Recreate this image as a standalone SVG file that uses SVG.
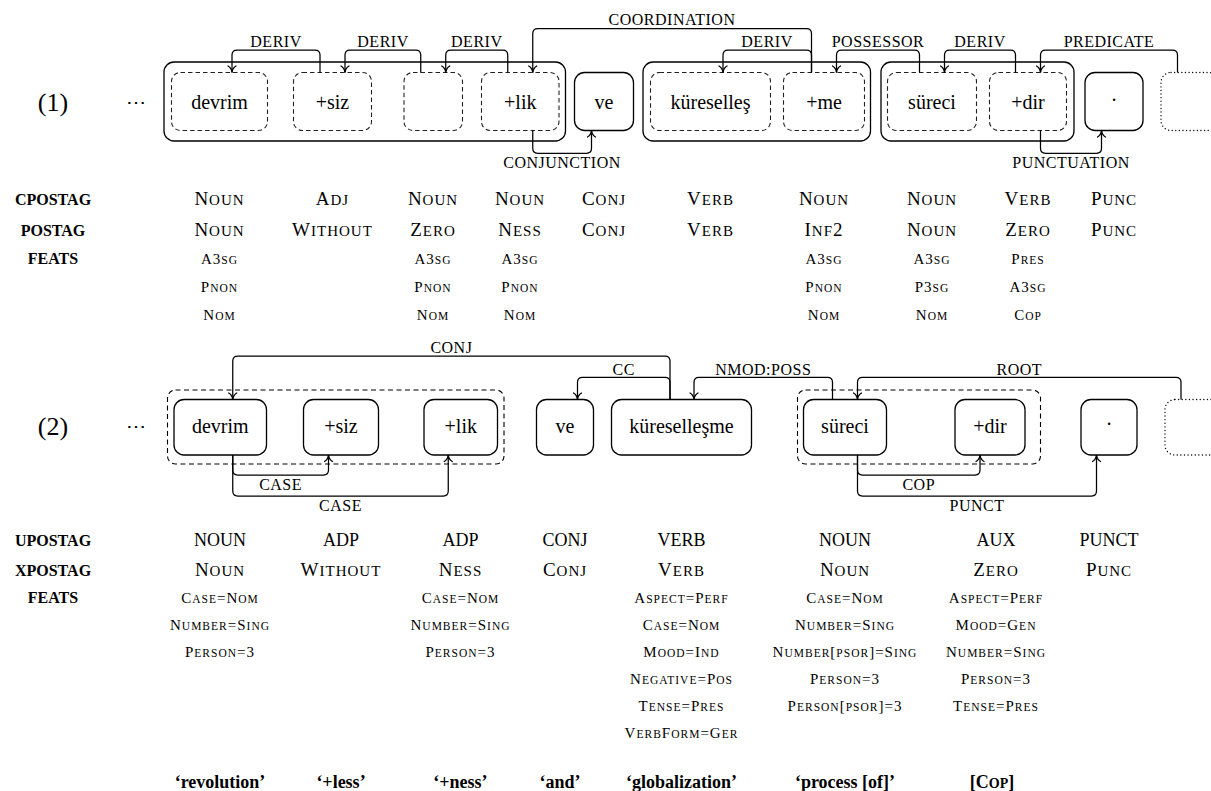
<svg xmlns="http://www.w3.org/2000/svg" width="1211" height="791" viewBox="0 0 1211 791">
<defs>
<style>
text{font-family:"Liberation Serif","Times New Roman",serif;fill:#000;text-anchor:middle}
.w{font-size:20px}
.num{font-size:26px}
.lbl{font-size:16px;letter-spacing:0.5px}
.hd{font-size:16px;font-weight:bold}
.pos{font-size:19px;letter-spacing:1px}
.pos .s{font-size:15px}
.up{font-size:18px}
.ft{font-size:15px;letter-spacing:1px}
.ft .s{font-size:11.5px}
.gl{font-size:18px;font-weight:bold}
.gl .s{font-size:14px}
.box{fill:none;stroke:#000;stroke-width:1.3}
.dbox{fill:none;stroke:#222;stroke-width:1.1;stroke-dasharray:4.5 3}
.dot{fill:none;stroke:#000;stroke-width:1.3;stroke-dasharray:0.1 3.5;stroke-linecap:round}
.grp{fill:none;stroke:#000;stroke-width:1.1;stroke-dasharray:5 3.5}
.e{fill:none;stroke:#000;stroke-width:1.25;marker-end:url(#ah)}
</style>
<marker id="ah" viewBox="-8 -5 9 10" markerWidth="9" markerHeight="10" refX="0" refY="0" orient="auto" markerUnits="userSpaceOnUse">
<path d="M-6.5,-4 C-5,-1.4 -2.4,-0.3 0,0 C-2.4,0.3 -5,1.4 -6.5,4" fill="none" stroke="#000" stroke-width="1.3" stroke-linecap="round"/>
</marker>
</defs>

<!-- Row (1) -->
<text class="num" x="53" y="111">(1)</text>
<text class="w" x="136" y="109">⋯</text>

<g id="grpA"><rect class="box" x="164" y="62" width="401.5" height="79" rx="10"/></g>
<g id="n1-devrim"><rect class="dbox" x="171.5" y="72.5" width="96" height="58" rx="9"/><text class="w" x="219.5" y="109">devrim</text></g>
<g id="n1-siz"><rect class="dbox" x="293.5" y="72.5" width="78" height="58" rx="9"/><text class="w" x="332.5" y="109">+siz</text></g>
<g id="n1-empty"><rect class="dbox" x="404" y="72.5" width="58.5" height="58" rx="9"/></g>
<g id="n1-lik"><rect class="dbox" x="481.5" y="72.5" width="77.5" height="58" rx="9"/><text class="w" x="520.25" y="109">+lik</text></g>
<g id="n1-ve"><rect class="box" x="574.5" y="72.5" width="59" height="58" rx="10"/><text class="w" x="604" y="109">ve</text></g>
<g id="grpB"><rect class="box" x="643" y="62" width="227.5" height="79" rx="10"/></g>
<g id="n1-kuresel"><rect class="dbox" x="650.5" y="72.5" width="120" height="58" rx="9"/><text class="w" x="710.5" y="109">küreselleş</text></g>
<g id="n1-me"><rect class="dbox" x="783.5" y="72.5" width="81" height="58" rx="9"/><text class="w" x="824" y="109">+me</text></g>
<g id="grpC"><rect class="box" x="881" y="62" width="193" height="79" rx="10"/></g>
<g id="n1-sureci"><rect class="dbox" x="887.5" y="72.5" width="89" height="58" rx="9"/><text class="w" x="932" y="109">süreci</text></g>
<g id="n1-dir"><rect class="dbox" x="989.5" y="72.5" width="77" height="58" rx="9"/><text class="w" x="1028" y="109">+dir</text></g>
<g id="n1-punc"><rect class="box" x="1085" y="72.5" width="58" height="58" rx="10"/><text class="w" x="1114" y="107">·</text></g>
<g id="n1-next"><rect class="dot" x="1161" y="72.5" width="58" height="58" rx="10"/></g>

<g id="edges1">
<path class="e" d="M320,72.5 V55 Q320,50 315,50 H237 Q232,50 232,55 V72.5"/>
<path class="e" d="M420.75,72.5 V55 Q420.75,50 415.75,50 H350 Q345,50 345,55 V72.5"/>
<path class="e" d="M507.75,72.5 V55 Q507.75,50 502.75,50 H450.75 Q445.75,50 445.75,55 V72.5"/>
<path class="e" d="M811.5,72.5 V33.5 Q811.5,28.5 806.5,28.5 H537.75 Q532.75,28.5 532.75,33.5 V72.5"/>
<path class="e" d="M532.75,130.5 V148.3 Q532.75,153.3 537.75,153.3 H586.5 Q591.5,153.3 591.5,148.3 V130.5"/>
<path class="e" d="M811.5,72.5 V55 Q811.5,50 806.5,50 H728 Q723,50 723,55 V72.5"/>
<path class="e" d="M919.5,72.5 V55 Q919.5,50 914.5,50 H841.5 Q836.5,50 836.5,55 V72.5"/>
<path class="e" d="M1015.5,72.5 V55 Q1015.5,50 1010.5,50 H949.5 Q944.5,50 944.5,55 V72.5"/>
<path class="e" d="M1177.5,72.5 V55 Q1177.5,50 1172.5,50 H1045.5 Q1040.5,50 1040.5,55 V72.5"/>
<path class="e" d="M1040.5,130.5 V148.3 Q1040.5,153.3 1045.5,153.3 H1096.5 Q1101.5,153.3 1101.5,148.3 V130.5"/>
<text class="lbl" x="276" y="47">DERIV</text>
<text class="lbl" x="383" y="47">DERIV</text>
<text class="lbl" x="476.75" y="47">DERIV</text>
<text class="lbl" x="672" y="25">COORDINATION</text>
<text class="lbl" x="562" y="168">CONJUNCTION</text>
<text class="lbl" x="767" y="47">DERIV</text>
<text class="lbl" x="878" y="47">POSSESSOR</text>
<text class="lbl" x="980" y="47">DERIV</text>
<text class="lbl" x="1109" y="47">PREDICATE</text>
<text class="lbl" x="1071" y="168">PUNCTUATION</text>
</g>

<!-- Table (1) -->
<g id="table1">
<text class="hd" x="53" y="205">CPOSTAG</text>
<text class="hd" x="53" y="236">POSTAG</text>
<text class="hd" x="53" y="264">FEATS</text>

<text class="pos" x="219.5" y="205">N<tspan class="s">OUN</tspan></text>
<text class="pos" x="219.5" y="236">N<tspan class="s">OUN</tspan></text>
<text class="ft" x="219.5" y="264">A3<tspan class="s">SG</tspan></text>
<text class="ft" x="219.5" y="292">P<tspan class="s">NON</tspan></text>
<text class="ft" x="219.5" y="320">N<tspan class="s">OM</tspan></text>

<text class="pos" x="332.5" y="205">A<tspan class="s">DJ</tspan></text>
<text class="pos" x="332.5" y="236">W<tspan class="s">ITHOUT</tspan></text>

<text class="pos" x="433" y="205">N<tspan class="s">OUN</tspan></text>
<text class="pos" x="433" y="236">Z<tspan class="s">ERO</tspan></text>
<text class="ft" x="433" y="264">A3<tspan class="s">SG</tspan></text>
<text class="ft" x="433" y="292">P<tspan class="s">NON</tspan></text>
<text class="ft" x="433" y="320">N<tspan class="s">OM</tspan></text>

<text class="pos" x="520" y="205">N<tspan class="s">OUN</tspan></text>
<text class="pos" x="520" y="236">N<tspan class="s">ESS</tspan></text>
<text class="ft" x="520" y="264">A3<tspan class="s">SG</tspan></text>
<text class="ft" x="520" y="292">P<tspan class="s">NON</tspan></text>
<text class="ft" x="520" y="320">N<tspan class="s">OM</tspan></text>

<text class="pos" x="604" y="205">C<tspan class="s">ONJ</tspan></text>
<text class="pos" x="604" y="236">C<tspan class="s">ONJ</tspan></text>

<text class="pos" x="710.5" y="205">V<tspan class="s">ERB</tspan></text>
<text class="pos" x="710.5" y="236">V<tspan class="s">ERB</tspan></text>

<text class="pos" x="824" y="205">N<tspan class="s">OUN</tspan></text>
<text class="pos" x="824" y="236">I<tspan class="s">NF</tspan>2</text>
<text class="ft" x="824" y="264">A3<tspan class="s">SG</tspan></text>
<text class="ft" x="824" y="292">P<tspan class="s">NON</tspan></text>
<text class="ft" x="824" y="320">N<tspan class="s">OM</tspan></text>

<text class="pos" x="932" y="205">N<tspan class="s">OUN</tspan></text>
<text class="pos" x="932" y="236">N<tspan class="s">OUN</tspan></text>
<text class="ft" x="932" y="264">A3<tspan class="s">SG</tspan></text>
<text class="ft" x="932" y="292">P3<tspan class="s">SG</tspan></text>
<text class="ft" x="932" y="320">N<tspan class="s">OM</tspan></text>

<text class="pos" x="1028" y="205">V<tspan class="s">ERB</tspan></text>
<text class="pos" x="1028" y="236">Z<tspan class="s">ERO</tspan></text>
<text class="ft" x="1028" y="264">P<tspan class="s">RES</tspan></text>
<text class="ft" x="1028" y="292">A3<tspan class="s">SG</tspan></text>
<text class="ft" x="1028" y="320">C<tspan class="s">OP</tspan></text>

<text class="pos" x="1114" y="205">P<tspan class="s">UNC</tspan></text>
<text class="pos" x="1114" y="236">P<tspan class="s">UNC</tspan></text>
</g>

<!-- Row (2) -->
<text class="num" x="53" y="435">(2)</text>
<text class="w" x="136" y="433">⋯</text>

<g id="grp2A"><rect class="grp" x="167.5" y="390" width="336.5" height="74" rx="8"/></g>
<g id="n2-devrim"><rect class="box" x="174" y="399.5" width="92.5" height="55.5" rx="10"/><text class="w" x="220.25" y="433">devrim</text></g>
<g id="n2-siz"><rect class="box" x="303.5" y="399.5" width="75" height="55.5" rx="10"/><text class="w" x="341" y="433">+siz</text></g>
<g id="n2-lik"><rect class="box" x="424" y="399.5" width="73.5" height="55.5" rx="10"/><text class="w" x="460.75" y="433">+lik</text></g>
<g id="n2-ve"><rect class="box" x="536.5" y="399.5" width="57" height="55.5" rx="10"/><text class="w" x="565" y="433">ve</text></g>
<g id="n2-kuresel"><rect class="box" x="611.5" y="399.5" width="140" height="55.5" rx="10"/><text class="w" x="681.5" y="433">küreselleşme</text></g>
<g id="grp2B"><rect class="grp" x="797.5" y="390" width="243" height="74" rx="8"/></g>
<g id="n2-sureci"><rect class="box" x="803.5" y="399.5" width="83" height="55.5" rx="10"/><text class="w" x="845" y="433">süreci</text></g>
<g id="n2-dir"><rect class="box" x="955" y="399.5" width="70" height="55.5" rx="10"/><text class="w" x="990" y="433">+dir</text></g>
<g id="n2-punc"><rect class="box" x="1081" y="399.5" width="56" height="55.5" rx="10"/><text class="w" x="1109" y="431">·</text></g>
<g id="n2-next"><rect class="dot" x="1165" y="399.5" width="58" height="55.5" rx="10"/></g>

<g id="edges2">
<path class="e" d="M670,399.5 V361 Q670,356 665,356 H237.75 Q232.75,356 232.75,361 V399.5"/>
<path class="e" d="M670,399.5 V382.3 Q670,377.3 665,377.3 H582.5 Q577.5,377.3 577.5,382.3 V399.5"/>
<path class="e" d="M832.5,399.5 V382.3 Q832.5,377.3 827.5,377.3 H699 Q694,377.3 694,382.3 V399.5"/>
<path class="e" d="M1181,399.5 V382.3 Q1181,377.3 1176,377.3 H862.5 Q857.5,377.3 857.5,382.3 V399.5"/>
<path class="e" d="M232.75,455 V470 Q232.75,475 237.75,475 H323.5 Q328.5,475 328.5,470 V455"/>
<path class="e" d="M232.75,455 V491 Q232.75,496 237.75,496 H443.25 Q448.25,496 448.25,491 V455"/>
<path class="e" d="M857.5,455 V470 Q857.5,475 862.5,475 H975 Q980,475 980,470 V455"/>
<path class="e" d="M857.5,455 V491 Q857.5,496 862.5,496 H1091.5 Q1096.5,496 1096.5,491 V455"/>
<text class="lbl" x="451.4" y="353">CONJ</text>
<text class="lbl" x="623.75" y="374.5">CC</text>
<text class="lbl" x="763.25" y="374.5">NMOD:POSS</text>
<text class="lbl" x="1019.25" y="374.5">ROOT</text>
<text class="lbl" x="280.6" y="490">CASE</text>
<text class="lbl" x="340.5" y="511">CASE</text>
<text class="lbl" x="918.75" y="490">COP</text>
<text class="lbl" x="977" y="511">PUNCT</text>
</g>

<!-- Table (2) -->
<g id="table2">
<text class="hd" x="53" y="546">UPOSTAG</text>
<text class="hd" x="53" y="576">XPOSTAG</text>
<text class="hd" x="53" y="603">FEATS</text>

<text class="up" x="220" y="546">NOUN</text>
<text class="pos" x="220" y="576">N<tspan class="s">OUN</tspan></text>
<text class="ft" x="220" y="603">C<tspan class="s">ASE</tspan>=N<tspan class="s">OM</tspan></text>
<text class="ft" x="220" y="630">N<tspan class="s">UMBER</tspan>=S<tspan class="s">ING</tspan></text>
<text class="ft" x="220" y="657">P<tspan class="s">ERSON</tspan>=3</text>

<text class="up" x="341" y="546">ADP</text>
<text class="pos" x="341" y="576">W<tspan class="s">ITHOUT</tspan></text>

<text class="up" x="460.5" y="546">ADP</text>
<text class="pos" x="460.5" y="576">N<tspan class="s">ESS</tspan></text>
<text class="ft" x="460.5" y="603">C<tspan class="s">ASE</tspan>=N<tspan class="s">OM</tspan></text>
<text class="ft" x="460.5" y="630">N<tspan class="s">UMBER</tspan>=S<tspan class="s">ING</tspan></text>
<text class="ft" x="460.5" y="657">P<tspan class="s">ERSON</tspan>=3</text>

<text class="up" x="565" y="546">CONJ</text>
<text class="pos" x="565" y="576">C<tspan class="s">ONJ</tspan></text>

<text class="up" x="681.5" y="546">VERB</text>
<text class="pos" x="681.5" y="576">V<tspan class="s">ERB</tspan></text>
<text class="ft" x="681.5" y="603">A<tspan class="s">SPECT</tspan>=P<tspan class="s">ERF</tspan></text>
<text class="ft" x="681.5" y="630">C<tspan class="s">ASE</tspan>=N<tspan class="s">OM</tspan></text>
<text class="ft" x="681.5" y="657">M<tspan class="s">OOD</tspan>=I<tspan class="s">ND</tspan></text>
<text class="ft" x="681.5" y="684">N<tspan class="s">EGATIVE</tspan>=P<tspan class="s">OS</tspan></text>
<text class="ft" x="681.5" y="711">T<tspan class="s">ENSE</tspan>=P<tspan class="s">RES</tspan></text>
<text class="ft" x="681.5" y="738">V<tspan class="s">ERB</tspan>F<tspan class="s">ORM</tspan>=G<tspan class="s">ER</tspan></text>

<text class="up" x="845" y="546">NOUN</text>
<text class="pos" x="845" y="576">N<tspan class="s">OUN</tspan></text>
<text class="ft" x="845" y="603">C<tspan class="s">ASE</tspan>=N<tspan class="s">OM</tspan></text>
<text class="ft" x="845" y="630">N<tspan class="s">UMBER</tspan>=S<tspan class="s">ING</tspan></text>
<text class="ft" x="845" y="657">N<tspan class="s">UMBER</tspan>[<tspan class="s">PSOR</tspan>]=S<tspan class="s">ING</tspan></text>
<text class="ft" x="845" y="684">P<tspan class="s">ERSON</tspan>=3</text>
<text class="ft" x="845" y="711">P<tspan class="s">ERSON</tspan>[<tspan class="s">PSOR</tspan>]=3</text>

<text class="up" x="996" y="546">AUX</text>
<text class="pos" x="996" y="576">Z<tspan class="s">ERO</tspan></text>
<text class="ft" x="996" y="603">A<tspan class="s">SPECT</tspan>=P<tspan class="s">ERF</tspan></text>
<text class="ft" x="996" y="630">M<tspan class="s">OOD</tspan>=G<tspan class="s">EN</tspan></text>
<text class="ft" x="996" y="657">N<tspan class="s">UMBER</tspan>=S<tspan class="s">ING</tspan></text>
<text class="ft" x="996" y="684">P<tspan class="s">ERSON</tspan>=3</text>
<text class="ft" x="996" y="711">T<tspan class="s">ENSE</tspan>=P<tspan class="s">RES</tspan></text>

<text class="up" x="1109" y="546">PUNCT</text>
<text class="pos" x="1109" y="576">P<tspan class="s">UNC</tspan></text>
</g>

<!-- Glosses -->
<g id="glosses">
<text class="gl" x="220" y="788">‘revolution’</text>
<text class="gl" x="341" y="788">‘+less’</text>
<text class="gl" x="460.5" y="788">‘+ness’</text>
<text class="gl" x="560" y="788">‘and’</text>
<text class="gl" x="681.5" y="788">‘globalization’</text>
<text class="gl" x="845" y="788">‘process [of]’</text>
<text class="gl" x="992" y="788">[C<tspan class="s">OP</tspan>]</text>
</g>
</svg>
